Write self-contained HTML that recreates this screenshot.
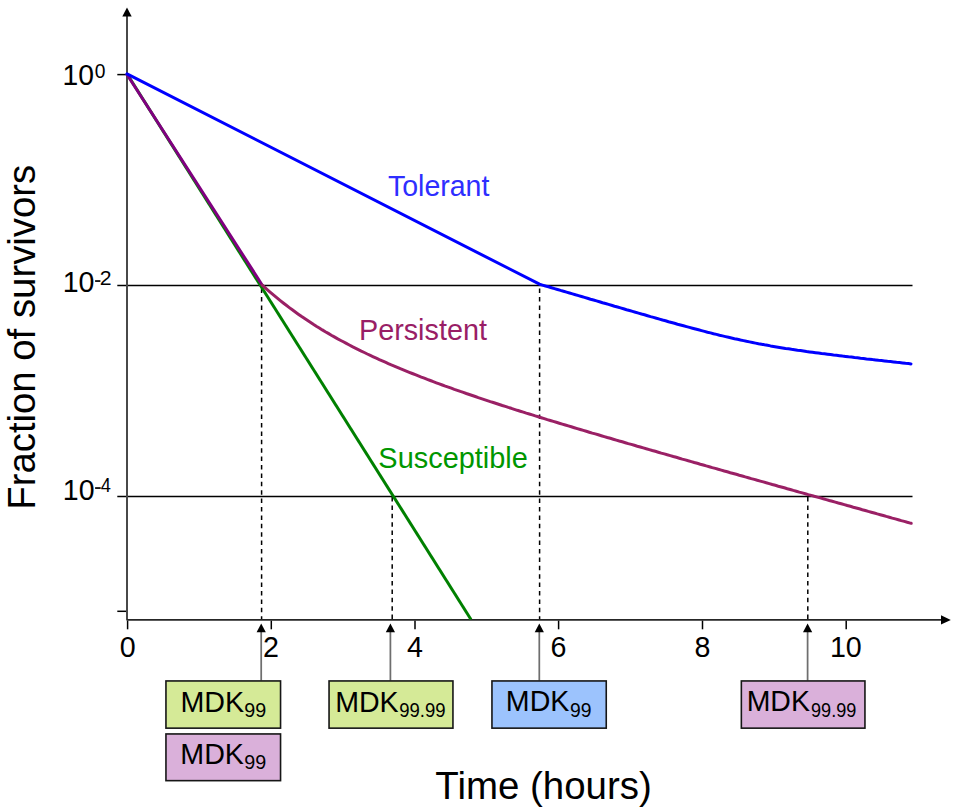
<!DOCTYPE html>
<html><head><meta charset="utf-8"><style>
html,body{margin:0;padding:0;background:#fff;}
body{width:957px;height:812px;overflow:hidden;font-family:"Liberation Sans", sans-serif;}
svg{display:block;}
</style></head><body>
<svg width="957" height="812" viewBox="0 0 957 812">
<rect width="957" height="812" fill="#fff"/>
<g stroke="#000" stroke-width="1.5" fill="none">
<line x1="117.3" y1="285.6" x2="912.5" y2="285.6"/>
<line x1="117.3" y1="496.4" x2="912.5" y2="496.4"/>
<line x1="117.3" y1="74.6" x2="126" y2="74.6"/>
<line x1="117.3" y1="611.3" x2="126" y2="611.3"/>
<line x1="127.6" y1="620.5" x2="127.6" y2="629.3"/>
<line x1="271.3" y1="620.5" x2="271.3" y2="629.3"/>
<line x1="415.0" y1="620.5" x2="415.0" y2="629.3"/>
<line x1="558.6" y1="620.5" x2="558.6" y2="629.3"/>
<line x1="702.5" y1="620.5" x2="702.5" y2="629.3"/>
<line x1="846.2" y1="620.5" x2="846.2" y2="629.3"/>
</g>
<g stroke="#000" stroke-width="1.5" stroke-dasharray="4.5 3.9" fill="none">
<line x1="261.6" y1="288.6" x2="261.6" y2="619"/>
<line x1="539.6" y1="288.6" x2="539.6" y2="619"/>
<line x1="392.2" y1="497" x2="392.2" y2="619"/>
<line x1="807.8" y1="497" x2="807.8" y2="619"/>
</g>
<line x1="127" y1="16" x2="127" y2="619.8" stroke="#484848" stroke-width="2"/>
<path d="M122.3,16.4 L131.7,16.4 L127,7.5 Z" fill="#000"/>
<line x1="126.5" y1="619.9" x2="942" y2="619.9" stroke="#262626" stroke-width="1.8"/>
<path d="M941,615.3 L941,624.6 L950.8,619.95 Z" fill="#000"/>
<g fill="none" stroke-width="3" stroke-linecap="round" stroke-linejoin="round">
<path d="M127.4,74.5 L471,619.5" stroke="#008000" stroke-linecap="butt"/>
<path d="M127,74.5 L262.3,285.2" stroke="#800080"/>
<path d="M262.3,285.2 L265.3,287.9 L268.3,290.6 L271.3,293.2 L274.3,295.7 L277.3,298.2 L280.3,300.6 L283.3,303.0 L286.3,305.3 L289.3,307.6 L292.3,309.8 L295.3,312.0 L298.3,314.2 L301.3,316.3 L304.3,318.3 L307.3,320.3 L310.3,322.3 L313.3,324.3 L316.3,326.2 L319.3,328.0 L322.3,329.9 L325.3,331.7 L328.3,333.4 L331.3,335.2 L334.3,336.9 L337.3,338.6 L340.3,340.2 L343.3,341.8 L346.3,343.4 L349.3,345.0 L352.3,346.6 L355.3,348.1 L358.3,349.6 L361.3,351.1 L364.3,352.5 L367.3,354.0 L370.3,355.4 L373.3,356.8 L376.3,358.2 L379.3,359.6 L382.3,360.9 L385.3,362.2 L388.3,363.6 L391.3,364.9 L394.3,366.1 L397.3,367.4 L400.3,368.7 L403.3,369.9 L406.3,371.1 L409.3,372.3 L412.3,373.5 L415.3,374.7 L418.3,375.9 L421.3,377.1 L424.3,378.2 L427.3,379.4 L430.3,380.5 L433.3,381.7 L436.3,382.8 L439.3,383.9 L442.3,385.0 L445.3,386.1 L448.3,387.1 L451.3,388.2 L454.3,389.3 L457.3,390.3 L460.3,391.4 L463.3,392.4 L466.3,393.5 L469.3,394.5 L472.3,395.5 L475.3,396.5 L478.3,397.6 L481.3,398.6 L484.3,399.6 L487.3,400.6 L490.3,401.6 L493.3,402.5 L496.3,403.5 L499.3,404.5 L502.3,405.5 L505.3,406.4 L508.3,407.4 L511.3,408.3 L514.3,409.3 L517.3,410.3 L520.3,411.2 L523.3,412.1 L526.3,413.1 L529.3,414.0 L532.3,414.9 L535.3,415.9 L538.3,416.8 L541.3,417.7 L544.3,418.6 L547.3,419.6 L550.3,420.5 L553.3,421.4 L556.3,422.3 L559.3,423.2 L562.3,424.1 L565.3,425.0 L568.3,425.9 L571.3,426.8 L574.3,427.7 L577.3,428.6 L580.3,429.5 L583.3,430.4 L586.3,431.3 L589.3,432.2 L592.3,433.1 L595.3,433.9 L598.3,434.8 L601.3,435.7 L604.3,436.6 L607.3,437.5 L610.3,438.3 L613.3,439.2 L616.3,440.1 L619.3,441.0 L622.3,441.8 L625.3,442.7 L628.3,443.6 L631.3,444.4 L634.3,445.3 L637.3,446.2 L640.3,447.0 L643.3,447.9 L646.3,448.8 L649.3,449.6 L652.3,450.5 L655.3,451.3 L658.3,452.2 L661.3,453.1 L664.3,453.9 L667.3,454.8 L670.3,455.6 L673.3,456.5 L676.3,457.3 L679.3,458.2 L682.3,459.1 L685.3,459.9 L688.3,460.8 L691.3,461.6 L694.3,462.5 L697.3,463.3 L700.3,464.2 L703.3,465.0 L706.3,465.9 L709.3,466.7 L712.3,467.6 L715.3,468.4 L718.3,469.3 L721.3,470.1 L724.3,471.0 L727.3,471.8 L730.3,472.7 L733.3,473.5 L736.3,474.3 L739.3,475.2 L742.3,476.0 L745.3,476.9 L748.3,477.7 L751.3,478.6 L754.3,479.4 L757.3,480.3 L760.3,481.1 L763.3,481.9 L766.3,482.8 L769.3,483.6 L772.3,484.5 L775.3,485.3 L778.3,486.2 L781.3,487.0 L784.3,487.8 L787.3,488.7 L790.3,489.5 L793.3,490.4 L796.3,491.2 L799.3,492.1 L802.3,492.9 L805.3,493.7 L808.3,494.6 L811.3,495.4 L814.3,496.3 L817.3,497.1 L820.3,497.9 L823.3,498.8 L826.3,499.6 L829.3,500.5 L832.3,501.3 L835.3,502.1 L838.3,503.0 L841.3,503.8 L844.3,504.6 L847.3,505.5 L850.3,506.3 L853.3,507.2 L856.3,508.0 L859.3,508.8 L862.3,509.7 L865.3,510.5 L868.3,511.4 L871.3,512.2 L874.3,513.0 L877.3,513.9 L880.3,514.7 L883.3,515.5 L886.3,516.4 L889.3,517.2 L892.3,518.1 L895.3,518.9 L898.3,519.7 L901.3,520.6 L904.3,521.4 L907.3,522.3 L910.3,523.1 L911.2,523.3" stroke="#9a2065"/>
<path d="M127,73.9 L539.5,284.2 L539.5,284.2 L542.5,285.1 L545.5,286.0 L548.5,286.8 L551.5,287.7 L554.5,288.6 L557.5,289.5 L560.5,290.4 L563.5,291.2 L566.5,292.1 L569.5,293.0 L572.5,293.9 L575.5,294.8 L578.5,295.6 L581.5,296.5 L584.5,297.4 L587.5,298.3 L590.5,299.2 L593.5,300.0 L596.5,300.9 L599.5,301.8 L602.5,302.7 L605.5,303.5 L608.5,304.4 L611.5,305.3 L614.5,306.2 L617.5,307.0 L620.5,307.9 L623.5,308.8 L626.5,309.7 L629.5,310.5 L632.5,311.4 L635.5,312.3 L638.5,313.1 L641.5,314.0 L644.5,314.8 L647.5,315.7 L650.5,316.6 L653.5,317.4 L656.5,318.3 L659.5,319.1 L662.5,320.0 L665.5,320.8 L668.5,321.7 L671.5,322.5 L674.5,323.3 L677.5,324.2 L680.5,325.0 L683.5,325.8 L686.5,326.6 L689.5,327.4 L692.5,328.2 L695.5,329.0 L698.5,329.8 L701.5,330.6 L704.5,331.4 L707.5,332.2 L710.5,332.9 L713.5,333.7 L716.5,334.4 L719.5,335.2 L722.5,335.9 L725.5,336.6 L728.5,337.3 L731.5,338.0 L734.5,338.7 L737.5,339.3 L740.5,340.0 L743.5,340.6 L746.5,341.3 L749.5,341.9 L752.5,342.5 L755.5,343.1 L758.5,343.7 L761.5,344.2 L764.5,344.8 L767.5,345.3 L770.5,345.9 L773.5,346.4 L776.5,346.9 L779.5,347.4 L782.5,347.9 L785.5,348.4 L788.5,348.8 L791.5,349.3 L794.5,349.7 L797.5,350.2 L800.5,350.6 L803.5,351.0 L806.5,351.5 L809.5,351.9 L812.5,352.3 L815.5,352.7 L818.5,353.1 L821.5,353.5 L824.5,353.8 L827.5,354.2 L830.5,354.6 L833.5,355.0 L836.5,355.3 L839.5,355.7 L842.5,356.1 L845.5,356.4 L848.5,356.8 L851.5,357.1 L854.5,357.5 L857.5,357.8 L860.5,358.2 L863.5,358.5 L866.5,358.9 L869.5,359.2 L872.5,359.6 L875.5,359.9 L878.5,360.3 L881.5,360.6 L884.5,360.9 L887.5,361.3 L890.5,361.6 L893.5,361.9 L896.5,362.3 L899.5,362.6 L902.5,362.9 L905.5,363.3 L908.5,363.6 L911.0,363.9" stroke="#0000ff"/>
</g>
<g font-family='"Liberation Sans", sans-serif' fill="#000">
<text x="387.97" y="196.00" font-size="28.63" textLength="101.42" lengthAdjust="spacingAndGlyphs" fill="#2e2eff">Tolerant</text>
<text x="358.94" y="339.60" font-size="28.63" textLength="127.97" lengthAdjust="spacingAndGlyphs" fill="#991e66">Persistent</text>
<text x="378.37" y="467.80" font-size="28.63" textLength="149.50" lengthAdjust="spacingAndGlyphs" fill="#009600">Susceptible</text>
<text x="119.63" y="657.0" font-size="28.65">0</text>
<text x="263.03" y="657.0" font-size="28.65">2</text>
<text x="406.92" y="657.0" font-size="28.65">4</text>
<text x="550.53" y="657.0" font-size="28.65">6</text>
<text x="694.53" y="657.0" font-size="28.65">8</text>
<text x="829.94" y="657.0" font-size="28.65">10</text>
<text x="62.55" y="84.80" font-size="29.65" textLength="31.46" lengthAdjust="spacingAndGlyphs" >10</text>
<text x="94.75" y="77.60" font-size="20.48" textLength="10.70" lengthAdjust="spacingAndGlyphs" >0</text>
<text x="62.73" y="292.00" font-size="29.65" textLength="31.80" lengthAdjust="spacingAndGlyphs" >10</text>
<text x="99.74" y="284.90" font-size="20.77" textLength="11.83" lengthAdjust="spacingAndGlyphs" >2</text>
<rect x="95.1" y="280.2" width="5.3" height="1.7" fill="#000"/>
<text x="62.84" y="499.70" font-size="29.65" textLength="31.68" lengthAdjust="spacingAndGlyphs" >10</text>
<text x="100.68" y="491.80" font-size="20.49" textLength="10.15" lengthAdjust="spacingAndGlyphs" >4</text>
<rect x="95.1" y="487.2" width="5.6" height="1.7" fill="#000"/>
<text x="-509.74" y="0.00" font-size="39.30" textLength="344.94" lengthAdjust="spacingAndGlyphs" transform="translate(34.7,0) rotate(-90)" >Fraction of survivors</text>
<text x="435.35" y="798.80" font-size="39.30" textLength="216.45" lengthAdjust="spacingAndGlyphs" >Time (hours)</text>
<line x1="261.2" y1="680.5" x2="261.2" y2="631" stroke="#6e6e6e" stroke-width="1.75"/>
<path d="M256.59999999999997,632.2 L265.8,632.2 L261.2,623.5 Z" fill="#000"/>
<line x1="390.4" y1="680.5" x2="390.4" y2="631" stroke="#6e6e6e" stroke-width="1.75"/>
<path d="M385.79999999999995,632.2 L395.0,632.2 L390.4,623.5 Z" fill="#000"/>
<line x1="539.3" y1="680.5" x2="539.3" y2="631" stroke="#6e6e6e" stroke-width="1.75"/>
<path d="M534.6999999999999,632.2 L543.9,632.2 L539.3,623.5 Z" fill="#000"/>
<line x1="807.6" y1="680.5" x2="807.6" y2="631" stroke="#6e6e6e" stroke-width="1.75"/>
<path d="M803.0,632.2 L812.2,632.2 L807.6,623.5 Z" fill="#000"/>
<rect x="165.95" y="680.95" width="114.6" height="47.2" fill="#d5ea97" stroke="#161616" stroke-width="1.6"/>
<rect x="165.95" y="733.95" width="114.6" height="46.7" fill="#dab0da" stroke="#161616" stroke-width="1.6"/>
<rect x="329.05" y="680.95" width="123.9" height="47.2" fill="#d5ea97" stroke="#161616" stroke-width="1.6"/>
<rect x="491.95" y="680.95" width="114.3" height="47.2" fill="#9cc3fd" stroke="#161616" stroke-width="1.6"/>
<rect x="741.35" y="680.95" width="123.6" height="47.2" fill="#dab0da" stroke="#161616" stroke-width="1.6"/>
<text x="180.45" y="711.50" font-size="29.50" textLength="63.70" lengthAdjust="spacingAndGlyphs" >MDK</text>
<text x="244.17" y="717.30" font-size="20.00" textLength="21.96" lengthAdjust="spacingAndGlyphs" >99</text>
<text x="180.25" y="763.70" font-size="29.50" textLength="63.70" lengthAdjust="spacingAndGlyphs" >MDK</text>
<text x="244.37" y="769.20" font-size="20.00" textLength="21.96" lengthAdjust="spacingAndGlyphs" >99</text>
<text x="335.16" y="711.50" font-size="29.50" textLength="63.49" lengthAdjust="spacingAndGlyphs" >MDK</text>
<text x="399.13" y="717.40" font-size="20.00" textLength="46.45" lengthAdjust="spacingAndGlyphs" >99.99</text>
<text x="505.85" y="711.30" font-size="29.50" textLength="63.60" lengthAdjust="spacingAndGlyphs" >MDK</text>
<text x="569.99" y="716.70" font-size="20.00" textLength="21.53" lengthAdjust="spacingAndGlyphs" >99</text>
<text x="746.66" y="711.10" font-size="29.50" textLength="63.28" lengthAdjust="spacingAndGlyphs" >MDK</text>
<text x="811.05" y="717.10" font-size="20.00" textLength="45.31" lengthAdjust="spacingAndGlyphs" >99.99</text>
</g>
</svg>
</body></html>
